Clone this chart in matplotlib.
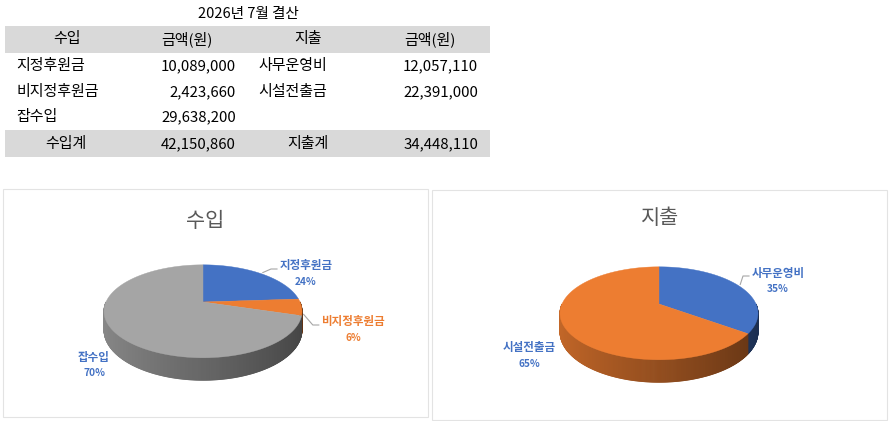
import numpy as np
import matplotlib.pyplot as plt
from matplotlib.patches import Polygon, Rectangle
from matplotlib.collections import PolyCollection
from matplotlib.colors import to_rgb

plt.rcParams['font.family'] = ['Noto Sans CJK KR', 'DejaVu Sans']

# 데이터
title = "2026년 7월 결산"
header = ["수입", "금액(원)", "지출", "금액(원)"]
income_labels = ["지정후원금", "비지정후원금", "잡수입"]
income_values = [10089000, 2423660, 29638200]
expense_labels = ["사무운영비", "시설전출금"]
expense_values = [12057110, 22391000]
income_total_label = "수입계"
expense_total_label = "지출계"

# 스타일
income_colors = ["#4472C4", "#ED7D31", "#A5A5A5"]
income_label_colors = ["#4472C4", "#ED7D31", "#4472C4"]
expense_colors = ["#4472C4", "#ED7D31"]
expense_label_colors = ["#4472C4", "#4472C4"]
FS = 10.8

fig = plt.figure(figsize=(8.89, 4.21), dpi=100)
ax = fig.add_axes([0, 0, 1, 1])
ax.set_xlim(0, 889)
ax.set_ylim(421, 0)
ax.axis('off')

# ---- 표 ----
ax.text(248, 14, title, ha='center', va='center', fontsize=10.5)
for y0, y1 in [(26, 53), (130, 157)]:
    ax.add_patch(Rectangle((5, y0), 485, y1 - y0, color='#d9d9d9', lw=0))
for h, x in zip(header, [67, 187, 308, 430]):
    ax.text(x, 39, h, ha='center', va='center', fontsize=FS)

row_y = [66, 92, 117]
for lab, val, y in zip(income_labels, income_values, row_y):
    ax.text(16, y, lab, ha='left', va='center', fontsize=FS)
    ax.text(236, y, f"{val:,}", ha='right', va='center', fontsize=FS)
for lab, val, y in zip(expense_labels, expense_values, row_y):
    ax.text(258, y, lab, ha='left', va='center', fontsize=FS)
    ax.text(478, y, f"{val:,}", ha='right', va='center', fontsize=FS)
ax.text(66, 144, income_total_label, ha='center', va='center', fontsize=FS)
ax.text(236, 144, f"{sum(income_values):,}", ha='right', va='center', fontsize=FS)
ax.text(308, 144, expense_total_label, ha='center', va='center', fontsize=FS)
ax.text(478, 144, f"{sum(expense_values):,}", ha='right', va='center', fontsize=FS)

# ---- 차트 영역 ----
ax.add_patch(Rectangle((3, 189), 425, 228, fill=False, ec='#e3e3e3', lw=0.8))
ax.add_patch(Rectangle((432, 190), 455, 230, fill=False, ec='#e3e3e3', lw=0.8))

# 3D 원형 (원근 투영)
K = 0.2
A = 97.0
B = 44.6
DEPTH = 18.0


def proj(cx, cy, t, drop=0.0):
    r = np.radians(t)
    s = 1.0 / (1.0 + K * np.sin(r))
    return cx + A * np.cos(r) * s, cy - B * np.sin(r) * s + drop * s


def shade(rgb, t):
    xn = np.cos(np.radians(t))
    f = 0.62 - 0.21 * xn
    return tuple(np.clip(np.array(rgb) * f, 0, 1))


def draw_pie(cx, cy, values, colors):
    frac = np.array(values) / sum(values)
    edges = 90 - 360 * np.concatenate([[0], np.cumsum(frac)])
    strips, cols = [], []
    for i in range(len(values)):
        t_hi, t_lo = edges[i], edges[i + 1]
        for ta in np.arange(t_lo, t_hi, 0.5):
            tb = min(ta + 0.5, t_hi)
            tm = ((ta + tb) / 2) % 360
            if not (180 <= tm <= 360):
                continue
            p1 = proj(cx, cy, ta)
            p2 = proj(cx, cy, tb)
            p3 = proj(cx, cy, tb, DEPTH)
            p4 = proj(cx, cy, ta, DEPTH)
            strips.append([p1, p2, p3, p4])
            cols.append(shade(to_rgb(colors[i]), tm))
    ax.add_collection(PolyCollection(strips, facecolors=cols, edgecolors=cols, linewidths=0.6))
    for i in range(len(values)):
        ts = np.linspace(edges[i], edges[i + 1], 120)
        pts = [(cx, cy)] + [proj(cx, cy, t) for t in ts]
        ax.add_patch(Polygon(pts, closed=True, fc=colors[i], ec=colors[i], lw=0.3))
    return frac, edges


def draw_labels(cx, cy, labels, frac, edges, lcolors, offsets, leads):
    for i, lab in enumerate(labels):
        dx, dy = offsets[i]
        lx, ly = cx + dx, cy + dy
        ax.text(lx, ly - 8, lab, ha='center', va='center', fontsize=8.3,
                fontweight='bold', color=lcolors[i])
        ax.text(lx, ly + 8, f"{round(frac[i] * 100)}%", ha='center', va='center',
                fontsize=7.3, fontweight='bold', color=lcolors[i])
        if leads[i] is not None:
            mid = (edges[i] + edges[i + 1]) / 2
            sx, sy = proj(cx, cy, mid, leads[i])
            ex = lx - len(lab) * 10.4 / 2 - 3
            ey = ly - 5
            ax.plot([sx + 2, ex - 6, ex], [sy - 1, ey, ey], color='#a6a6a6', lw=0.8)


ax.text(205, 221, "수입", ha='center', va='center', fontsize=15, color='#595959')
ax.text(660, 218, "지출", ha='center', va='center', fontsize=15, color='#595959')

fr, ed = draw_pie(203, 302, income_values, income_colors)
draw_labels(203, 302, income_labels, fr, ed, income_label_colors,
            [(103, -28), (150, 28), (-109, 63)], [0, 8, None])

fr, ed = draw_pie(659, 304, expense_values, expense_colors)
draw_labels(659, 304, expense_labels, fr, ed, expense_label_colors,
            [(119, -23), (-130, 52)], [0, None])

fig.savefig("out.png", dpi=100)
